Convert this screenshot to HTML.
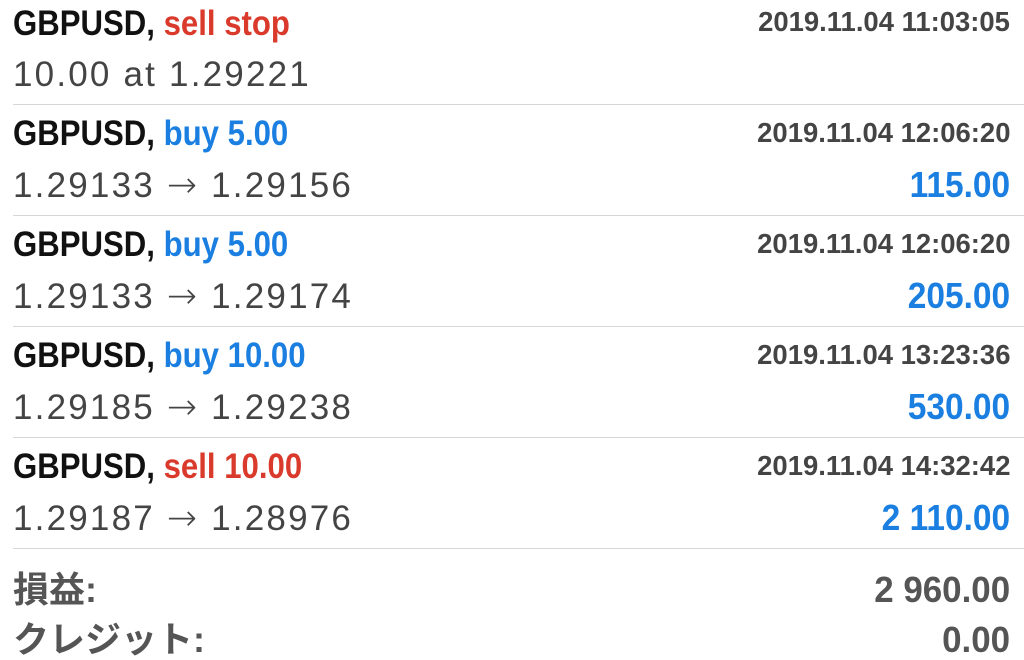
<!DOCTYPE html>
<html><head><meta charset="utf-8"><style>
body{margin:0;width:1024px;height:660px;background:#fff;overflow:hidden;position:relative;font-family:"Liberation Sans","Noto Sans CJK JP",sans-serif}
.t{position:absolute;left:13px;font-weight:bold;font-size:35px;line-height:35px;color:#111;transform:scaleX(0.89);transform-origin:left;white-space:nowrap}
.s{position:absolute;left:13px;font-size:35px;line-height:35px;color:#444;letter-spacing:2.2px;white-space:nowrap}
.a{font-family:"DejaVu Sans",sans-serif;font-size:36px;font-weight:200;color:#444}
.d{position:absolute;right:14px;font-weight:bold;font-size:28px;line-height:28px;color:#444;transform:scaleX(0.98);transform-origin:right;white-space:nowrap}
.v{position:absolute;right:14px;font-weight:bold;font-size:36px;line-height:36px;color:#1a7fe0;transform:scaleX(0.93);transform-origin:right;white-space:nowrap}
.sep{position:absolute;left:13px;right:0;height:1px;background:#d6d6d6}
.r{color:#d93a2b}.b{color:#1a7fe0}
.f{position:absolute;font-weight:bold;font-size:36px;line-height:36px;color:#555;white-space:nowrap}
</style></head><body>
<div>
<div class="t" style="top:6px">GBPUSD, <span class="r">sell stop</span></div>
<div class="d" style="top:8px">2019.11.04 11:03:05</div>
<div class="s" style="top:57px">10.00 at 1.29221</div>
</div>
<div class="sep" style="top:104px"></div>
<div>
<div class="t" style="top:116px">GBPUSD, <span class="b">buy 5.00</span></div>
<div class="d" style="top:119px">2019.11.04 12:06:20</div>
<div class="s" style="top:168px">1.29133 <span class="a">→</span> 1.29156</div>
<div class="v" style="top:167px">115.00</div>
</div>
<div class="sep" style="top:215px"></div>
<div>
<div class="t" style="top:227px">GBPUSD, <span class="b">buy 5.00</span></div>
<div class="d" style="top:230px">2019.11.04 12:06:20</div>
<div class="s" style="top:279px">1.29133 <span class="a">→</span> 1.29174</div>
<div class="v" style="top:278px">205.00</div>
</div>
<div class="sep" style="top:326px"></div>
<div>
<div class="t" style="top:338px">GBPUSD, <span class="b">buy 10.00</span></div>
<div class="d" style="top:341px">2019.11.04 13:23:36</div>
<div class="s" style="top:390px">1.29185 <span class="a">→</span> 1.29238</div>
<div class="v" style="top:389px">530.00</div>
</div>
<div class="sep" style="top:437px"></div>
<div>
<div class="t" style="top:449px">GBPUSD, <span class="r">sell 10.00</span></div>
<div class="d" style="top:452px">2019.11.04 14:32:42</div>
<div class="s" style="top:501px">1.29187 <span class="a">→</span> 1.28976</div>
<div class="v" style="top:500px">2 110.00</div>
</div>
<div class="sep" style="top:548px"></div>
<div class="f" style="left:13px;top:572px">損益:</div>
<div class="f" style="right:14px;top:572px;transform:scaleX(0.97);transform-origin:right">2 960.00</div>
<div class="f" style="left:13px;top:622px">クレジット:</div>
<div class="f" style="right:14px;top:622px;transform:scaleX(0.97);transform-origin:right">0.00</div>
</body></html>
